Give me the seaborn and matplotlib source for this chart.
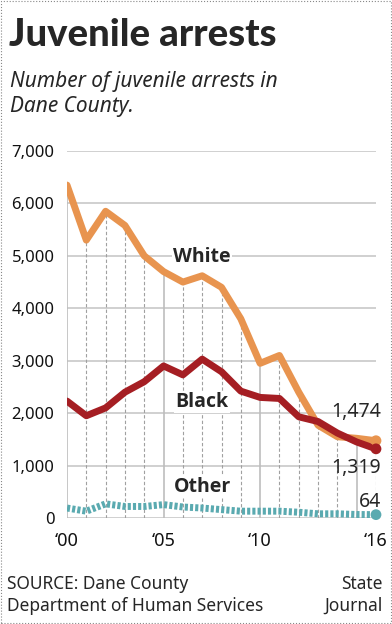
import pandas as pd
import matplotlib.pyplot as plt
import seaborn as sns
from matplotlib.patches import Rectangle

years = list(range(2000, 2017))
white = [6350, 5300, 5850, 5580, 5000, 4700, 4500, 4620, 4400, 3800, 2950, 3100, 2400, 1770, 1550, 1520, 1474]
black = [2230, 1950, 2100, 2400, 2600, 2900, 2730, 3030, 2790, 2420, 2300, 2280, 1930, 1840, 1620, 1450, 1319]
other = [190, 130, 270, 220, 220, 255, 210, 190, 160, 130, 130, 130, 110, 80, 80, 67, 64]

y_ticks = [0, 1000, 2000, 3000, 4000, 5000, 6000, 7000]
x_ticks = [2000, 2005, 2010, 2016]
x_labels = ['\u201800', '\u201805', '\u201810', '\u201816']

c_white = '#e8944f'
c_black = '#a51e23'
c_other = '#5aaab0'

df = pd.DataFrame({'year': years, 'White': white, 'Black': black, 'Other': other})

sns.set_style('white')
plt.rcParams['font.family'] = ['Noto Sans', 'DejaVu Sans']
bold_fam = ['Open Sans', 'DejaVu Sans']

fig = plt.figure(figsize=(3.92, 6.24), dpi=100)
ax = fig.add_axes([67 / 392, 106 / 624, 309 / 392, 367 / 624])

# gridlines
for v in y_ticks:
    ax.axhline(v, color='#c8c8c8', lw=1.2, zorder=0)
tops = [max(w, b) for w, b in zip(white, black)]
for yr, t in zip(years, tops):
    if yr % 5 == 0:
        ax.vlines(yr, 0, t, color='#bdbdbd', lw=1.2, zorder=0)
    else:
        ax.vlines(yr, 0, t, color='#a0a0a0', lw=0.8, linestyles=(0, (3, 2)), zorder=0)

line_kw = dict(solid_capstyle='round', solid_joinstyle='round')
sns.lineplot(data=df, x='year', y='White', color=c_white, lw=5, ax=ax, zorder=3, **line_kw)
sns.lineplot(data=df, x='year', y='Black', color=c_black, lw=5, ax=ax, zorder=4, **line_kw)
sns.lineplot(data=df, x='year', y='Other', color=c_other, lw=5, ax=ax, zorder=3,
             linestyle=(0, (0.45, 0.3)))

# end dots
ax.scatter([years[-1]] * 3, [white[-1], black[-1], other[-1]], s=60,
           color=[c_white, c_black, c_other], zorder=5, clip_on=False, linewidths=0)

ax.set_xlim(2000, 2016)
ax.set_ylim(0, 7000)
ax.set_yticks(y_ticks)
ax.set_yticklabels([f'{v:,}' for v in y_ticks])
ax.set_xticks(x_ticks)
ax.set_xticklabels(x_labels)
ax.tick_params(axis='both', length=0, labelsize=12, colors='#111111')
ax.tick_params(axis='y', pad=9)
ax.tick_params(axis='x', labelsize=13, pad=10)
ax.set_xlabel('')
ax.set_ylabel('')
sns.despine(ax=ax, left=True, bottom=True)

# series labels
box = dict(facecolor='white', edgecolor='none', pad=1)
for name, yv in [('White', 4980), ('Black', 2210), ('Other', 590)]:
    ax.text(2007, yv, name, ha='center', va='center', fontsize=14, fontweight='bold',
            family=bold_fam, bbox=box, zorder=2)

# end values
ax.text(2016.25, 2020, f'{white[-1]:,}', ha='right', va='center', fontsize=14)
ax.text(2016.25, 950, f'{black[-1]:,}', ha='right', va='center', fontsize=14)
ax.text(2016.25, 300, f'{other[-1]:,}', ha='right', va='center', fontsize=14)

# titles
fig.text(9 / 392, 1 - 35 / 624, 'Juvenile arrests', fontsize=27.5, fontweight='black',
         family=['Lato', 'DejaVu Sans'], va='center', ha='left')
fig.text(10 / 392, 1 - 94 / 624, 'Number of juvenile arrests in\nDane County.', fontsize=15,
         style='italic', va='center', ha='left', linespacing=1.25)

# source
fig.text(7 / 392, 1 - 595 / 624, 'SOURCE: Dane County\nDepartment of Human Services', fontsize=12.5,
         va='center', ha='left', linespacing=1.3)
fig.text(383 / 392, 1 - 595 / 624, 'State\nJournal', fontsize=12.5,
         va='center', ha='right', linespacing=1.3)

# dotted frame
fig.patches.append(Rectangle((0.002, 0.002), 0.996, 0.996, transform=fig.transFigure,
                             fill=False, edgecolor='#888888', lw=0.8, linestyle=':'))

fig.savefig('out.png', dpi=100)
